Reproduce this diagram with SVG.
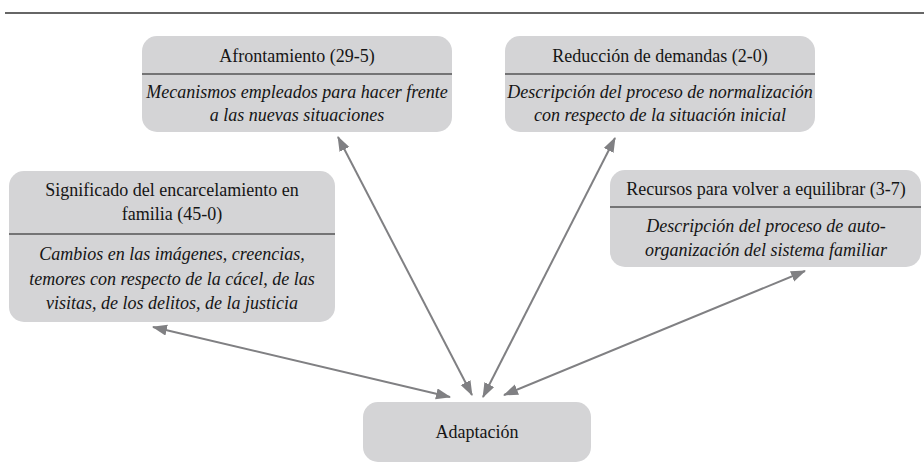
<svg xmlns="http://www.w3.org/2000/svg" width="924" height="476" viewBox="0 0 924 476">
<style>
.box{fill:#d4d4d6;stroke:none}
.div{stroke:#555;stroke-width:1.5}
.t{font-family:"Liberation Serif","Times New Roman",serif;font-size:18px;fill:#151515;text-anchor:middle}
.i{font-style:italic}
.c{stroke:#808083;stroke-width:2;fill:none;marker-start:url(#ah);marker-end:url(#ah)}
</style>
<defs>
<marker id="ah" markerUnits="userSpaceOnUse" markerWidth="16" markerHeight="12" refX="14" refY="5.5" orient="auto-start-reverse" viewBox="0 0 16 12">
<path d="M0,0 L15,5.5 L0,11 z" fill="#808083"/>
</marker>
</defs>
<rect width="924" height="476" fill="#fff"/>
<line x1="5" y1="13" x2="924" y2="13" stroke="#333" stroke-width="1.5"/>

<g id="afrontamiento">
<rect class="box" x="142" y="36" width="310" height="96" rx="15"/>
<text class="t" x="297" y="62">Afrontamiento (29-5)</text>
<line class="div" x1="142" y1="74" x2="452" y2="74"/>
<text class="t i" x="297" y="98">Mecanismos empleados para hacer frente</text>
<text class="t i" x="297" y="121">a las nuevas situaciones</text>
</g>

<g id="reduccion">
<rect class="box" x="505" y="36" width="310" height="96" rx="15"/>
<text class="t" x="660" y="62">Reducción de demandas (2-0)</text>
<line class="div" x1="505" y1="74" x2="815" y2="74"/>
<text class="t i" x="660" y="98">Descripción del proceso de normalización</text>
<text class="t i" x="660" y="121">con respecto de la situación inicial</text>
</g>

<g id="significado">
<rect class="box" x="9" y="171" width="326" height="151" rx="15"/>
<text class="t" x="172" y="196">Significado del encarcelamiento en</text>
<text class="t" x="172" y="220">familia (45-0)</text>
<line class="div" x1="9" y1="234" x2="335" y2="234"/>
<text class="t i" x="172" y="260">Cambios en las imágenes, creencias,</text>
<text class="t i" x="172" y="285">temores con respecto de la cácel, de las</text>
<text class="t i" x="172" y="309">visitas, de los delitos, de la justicia</text>
</g>

<g id="recursos">
<rect class="box" x="610" y="170" width="311" height="97" rx="15"/>
<text class="t" x="766" y="195">Recursos para volver a equilibrar (3-7)</text>
<line class="div" x1="610" y1="207" x2="921" y2="207"/>
<text class="t i" x="766" y="232">Descripción del proceso de auto-</text>
<text class="t i" x="766" y="256">organización del sistema familiar</text>
</g>

<g id="adaptacion">
<rect class="box" x="363" y="402" width="228" height="60" rx="15"/>
<text class="t" x="477" y="438">Adaptación</text>
</g>

<g id="connectors">
<line class="c" x1="153" y1="327" x2="450" y2="397"/>
<line class="c" x1="338" y1="137" x2="472" y2="395"/>
<line class="c" x1="615" y1="138" x2="483" y2="397"/>
<line class="c" x1="805" y1="271" x2="504" y2="395"/>
</g>
</svg>
